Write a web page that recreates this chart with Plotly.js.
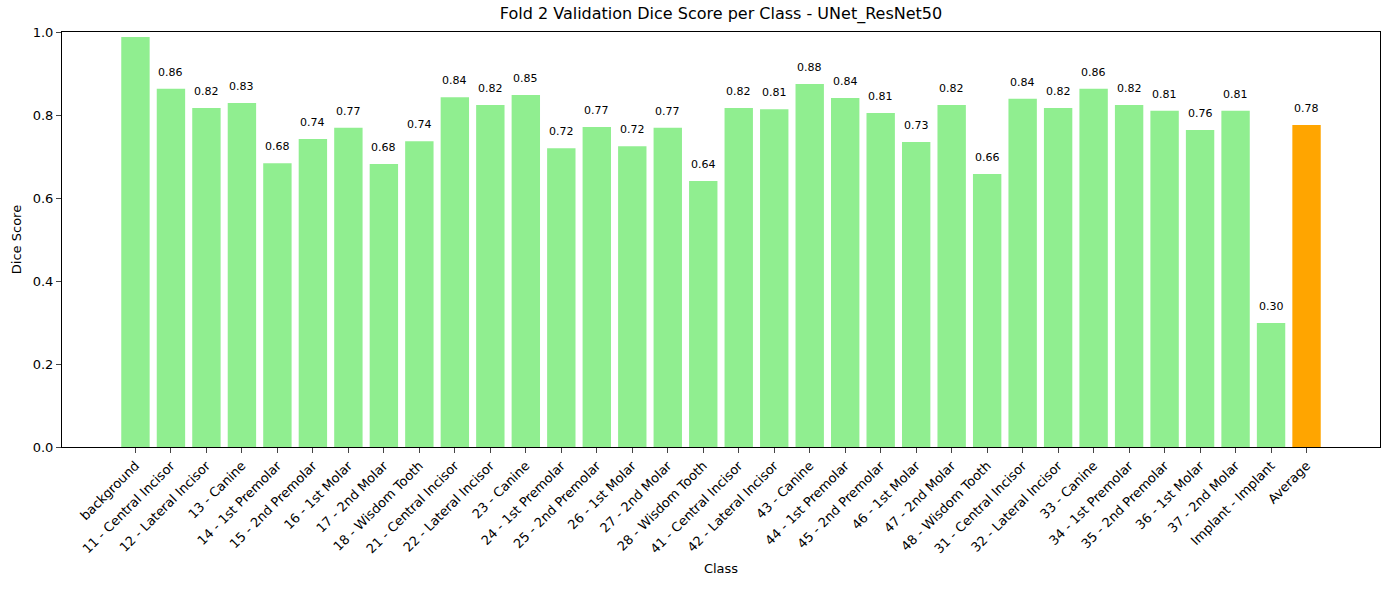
<!DOCTYPE html>
<html><head><meta charset="utf-8">
<script src="https://cdn.plot.ly/plotly-3.0.1.min.js"></script>
<style>body{margin:0;background:#fff}#chart{width:1390px;height:590px}</style>
</head><body><div id="chart"></div>
<script>
var classes = ['background','11 - Central Incisor','12 - Lateral Incisor','13 - Canine','14 - 1st Premolar','15 - 2nd Premolar','16 - 1st Molar','17 - 2nd Molar','18 - Wisdom Tooth','21 - Central Incisor','22 - Lateral Incisor','23 - Canine','24 - 1st Premolar','25 - 2nd Premolar','26 - 1st Molar','27 - 2nd Molar','28 - Wisdom Tooth','41 - Central Incisor','42 - Lateral Incisor','43 - Canine','44 - 1st Premolar','45 - 2nd Premolar','46 - 1st Molar','47 - 2nd Molar','48 - Wisdom Tooth','31 - Central Incisor','32 - Lateral Incisor','33 - Canine','34 - 1st Premolar','35 - 2nd Premolar','36 - 1st Molar','37 - 2nd Molar','Implant - Implant','Average'];
var dice = [0.988,0.863,0.817,0.829,0.684,0.742,0.769,0.682,0.737,0.843,0.824,0.848,0.720,0.771,0.725,0.769,0.641,0.817,0.814,0.875,0.841,0.805,0.735,0.824,0.658,0.839,0.817,0.863,0.824,0.810,0.764,0.810,0.299,0.776];

var xs = classes.map(function(c, i){ return i; });
var colors = classes.map(function(c){ return c === 'Average' ? '#FFA500' : '#90EE90'; });

var trace = {
    x: xs,
    y: dice,
    type: 'bar',
    width: 0.8,
    marker: {color: colors},
    hoverinfo: 'skip'
};

var annotations = dice.map(function(v, i){
    return {x: i, y: v + 0.02, text: v.toFixed(2), showarrow: false,
            yanchor: 'bottom', font: {size: 11, color: '#000'}};
});

var layout = {
    font: {family: 'DejaVu Sans', size: 13, color: '#000'},
    width: 1390, height: 590,
    paper_bgcolor: '#fff', plot_bgcolor: '#fff',
    showlegend: false,
    margin: {l: 62, r: 10, t: 32, b: 143},
    title: {text: 'Fold 2 Validation Dice Score per Class - UNet_ResNet50', font: {size: 16}, x: 0.5, xref: 'paper', y: 1, yref: 'container', yanchor: 'top', pad: {t: 8}},
    xaxis: {
        range: [-2.07, 35.07], tickvals: xs, ticktext: classes, tickangle: -45,
        ticks: 'outside', ticklen: 5, showgrid: false, zeroline: false,
        showline: true, linecolor: '#000', mirror: true,
        title: {text: 'Class', font: {size: 13}, standoff: 8}
    },
    yaxis: {
        range: [0, 1], dtick: 0.2, tickformat: '.1f',
        ticks: 'outside', ticklen: 5, showgrid: false, zeroline: false,
        showline: true, linecolor: '#000', mirror: true,
        title: {text: 'Dice Score', font: {size: 13}, standoff: 8}
    },
    annotations: annotations
};

Plotly.newPlot('chart', [trace], layout, {displayModeBar: false});
</script></body></html>
